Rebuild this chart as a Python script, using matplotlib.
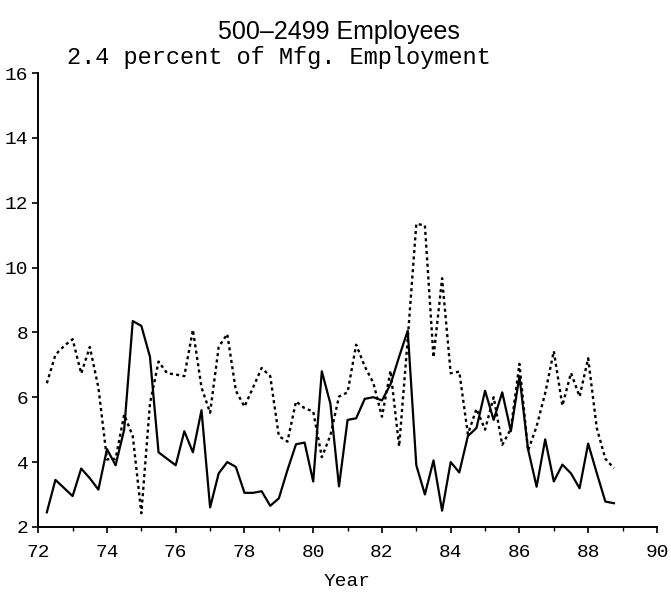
import matplotlib
matplotlib.use("Agg")
import matplotlib.pyplot as plt
from matplotlib.ticker import MultipleLocator

# quarterly observations, 1972Q1 .. 1988Q3 (plotted at year + q/4)
years = [72 + 0.25 * (i + 1) for i in range(67)]

solid = [
    2.45, 3.45, 3.20,
    2.95, 3.80, 3.50, 3.15,
    4.40, 3.90, 5.00, 8.35,
    8.20, 7.25, 4.30, 4.10,
    3.90, 4.95, 4.30, 5.60,
    2.60, 3.65, 4.00, 3.85,
    3.05, 3.05, 3.10, 2.65,
    2.88, 3.75, 4.55, 4.60,
    3.40, 6.80, 5.80, 3.25,
    5.30, 5.35, 5.95, 6.00,
    5.90, 6.40, 7.25, 8.05,
    3.90, 3.00, 4.05, 2.50,
    4.00, 3.68, 4.80, 5.05,
    6.20, 5.30, 6.15, 4.95,
    6.65, 4.40, 3.24, 4.70,
    3.40, 3.92, 3.65, 3.19,
    4.57, 3.66, 2.78, 2.73,
]

dotted = [
    6.43, 7.31, 7.58,
    7.79, 6.73, 7.55, 6.30,
    4.08, 4.10, 5.46, 4.80,
    2.42, 5.80, 7.10, 6.74,
    6.70, 6.65, 8.08, 6.30,
    5.52, 7.55, 7.95, 6.20,
    5.71, 6.30, 6.90, 6.65,
    4.80, 4.63, 5.87, 5.66,
    5.56, 4.15, 4.82, 6.02,
    6.15, 7.62, 6.95, 6.44,
    5.40, 6.82, 4.48, 7.80,
    11.35, 11.30, 7.23, 9.67,
    6.74, 6.79, 4.86, 5.64,
    5.00, 6.00, 4.53, 5.02,
    7.03, 4.35, 5.10, 6.13,
    7.42, 5.74, 6.75, 6.02,
    7.20, 5.05, 4.10, 3.81,
]

x_ticks = list(range(72, 91, 2))
y_ticks = list(range(2, 17, 2))

MONO = ["Liberation Mono", "DejaVu Sans Mono"]
SANS = ["Liberation Sans", "DejaVu Sans"]

fig = plt.figure(figsize=(6.71, 5.94), dpi=100)
ax = fig.add_axes([0.057, 0.113, 0.922, 0.764])

ax.plot(years, solid, color="black", linewidth=1.6, linestyle="-")
ax.plot(years, dotted, color="black", linewidth=1.7, linestyle=(0, (1.3, 1.4)))

ax.set_xlim(72, 90)
ax.set_ylim(2, 16)
ax.set_xticks(x_ticks)
ax.set_yticks(y_ticks)
ax.xaxis.set_minor_locator(MultipleLocator(1))

for side in ["top", "right"]:
    ax.spines[side].set_visible(False)
for side in ["left", "bottom"]:
    ax.spines[side].set_linewidth(1.4)

ax.tick_params(axis="both", which="major", direction="out", length=4, width=1.2)
ax.tick_params(axis="x", which="major", pad=8)
ax.tick_params(axis="y", which="major", pad=3)
ax.tick_params(axis="x", which="minor", direction="out", length=3, width=1.0)

for lab in ax.get_xticklabels() + ax.get_yticklabels():
    lab.set_family(MONO)
    lab.set_fontsize(14)

ax.set_xlabel("Year", family=MONO, fontsize=14, labelpad=9)

fig.text(0.505, 0.946, "500–2499 Employees", ha="center", va="center",
         family=SANS, fontsize=18)
fig.text(0.100, 0.904, "2.4 percent of Mfg. Employment", ha="left", va="center",
         family=MONO, fontsize=17)

fig.savefig("out.png", dpi=100)
